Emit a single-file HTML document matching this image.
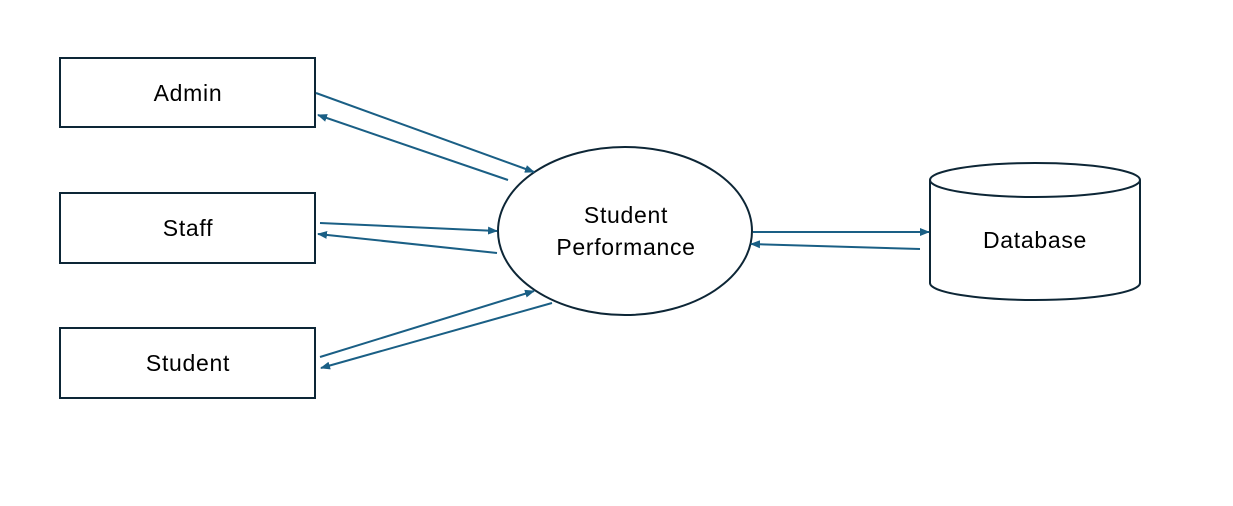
<!DOCTYPE html>
<html><head><meta charset="utf-8"><style>
html,body{margin:0;padding:0;background:#fff;}
svg{display:block;}
text{font-family:"Liberation Sans",sans-serif;font-size:23px;letter-spacing:0.7px;fill:#000;}
</style></head><body>
<svg width="1233" height="506" viewBox="0 0 1233 506" xmlns="http://www.w3.org/2000/svg">
<defs>
<marker id="a" markerWidth="10" markerHeight="8" refX="9" refY="4" orient="auto" markerUnits="userSpaceOnUse">
<path d="M0,0 L10,4 L0,8 Z" fill="#1a5f85"/></marker>
</defs>
<g fill="#fff" stroke="#0d2636" stroke-width="2">
<rect x="60" y="58" width="255" height="69"/>
<rect x="60" y="193" width="255" height="70"/>
<rect x="60" y="328" width="255" height="70"/>
<ellipse cx="625" cy="231" rx="127" ry="84"/>
<path d="M930,180 L930,283 A105,17 0 0 0 1140,283 L1140,180"/>
<ellipse cx="1035" cy="180" rx="105" ry="17"/>
</g>
<g stroke="#1a5f85" stroke-width="2" fill="none" marker-end="url(#a)">
<line x1="316" y1="93" x2="534" y2="172"/>
<line x1="508" y1="180" x2="318" y2="115"/>
<line x1="320" y1="223" x2="497" y2="231"/>
<line x1="497" y1="253" x2="318" y2="234"/>
<line x1="320" y1="357" x2="534" y2="291"/>
<line x1="552" y1="303" x2="321" y2="368"/>
<line x1="753" y1="232" x2="929" y2="232"/>
<line x1="920" y1="249" x2="751" y2="244"/>
</g>
<g text-anchor="middle">
<text x="188" y="101">Admin</text>
<text x="188" y="236">Staff</text>
<text x="188" y="371">Student</text>
<text x="626" y="223">Student</text>
<text x="626" y="255">Performance</text>
<text x="1035" y="248">Database</text>
</g>
</svg>
</body></html>
